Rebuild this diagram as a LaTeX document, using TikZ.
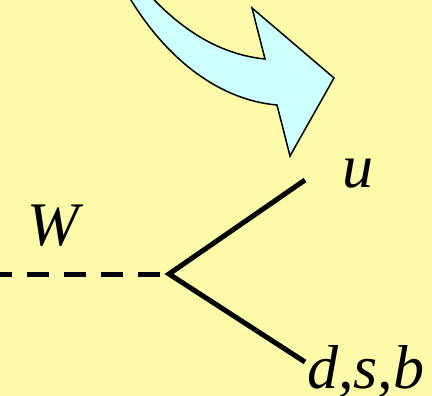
\documentclass[tikz,border=0pt]{standalone}
\usepackage{fontspec}
\setmainfont{Liberation Serif}
\begin{document}
\begin{tikzpicture}[x=1pt,y=-1pt,
  lbl/.style={inner sep=0pt,anchor=base west,font=\fontsize{62}{62}\selectfont\itshape},
  leg/.style={line width=5pt,line cap=butt},
  bigarrow/.style={fill=arrowcyan,draw=black,line width=1.5pt,line join=miter}]
\definecolor{bgyellow}{RGB}{255,250,170}
\definecolor{arrowcyan}{RGB}{204,255,255}
\fill[bgyellow] (0,0) rectangle (432,396);
\useasboundingbox (0,0) rectangle (432,396);
% curved arrow
\begin{scope}
\clip (0,0) rectangle (432,396);
\draw[bigarrow] (125,-10) .. controls (165,60) and (220,100) .. (277,105)
  -- (290,156) -- (334,78) -- (252,8) -- (265,59)
  .. controls (225,55) and (185,35) .. (145,-10) -- cycle;
\end{scope}
% vertex and legs
\coordinate (v) at (169,274);
\coordinate (wend) at (0,274);
\coordinate (uend) at (305,180);
\coordinate (dend) at (305,362);
\draw[leg,dash pattern=on 22pt off 15pt,dash phase=10pt] (wend) -- (v);
\draw[leg,line join=miter] (uend) -- (v) -- (dend);
% labels
\node[lbl] (W) at (27,245) {W};
\node[lbl] (u) at (342,188) {u};
\node[lbl] (dsb) at (307,388) {d,s,b};
\end{tikzpicture}
\end{document}
